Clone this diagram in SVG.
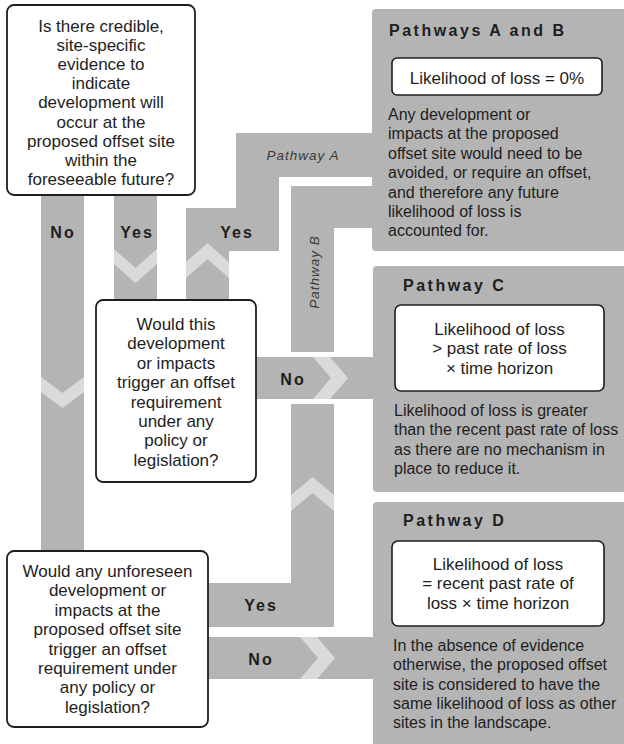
<svg xmlns="http://www.w3.org/2000/svg" width="624" height="744" viewBox="0 0 624 744">
<defs>
<style>
.band{fill:#b4b4b4}
.chev{fill:#dadada}
.panel{fill:#b4b4b4}
.q{fill:#fff;stroke:#1e1e1e;stroke-width:1.8}
.ib{fill:#fff;stroke:#1e1e1e;stroke-width:1.6}
.qt{font-family:"Liberation Sans",Arial,sans-serif;font-size:17px;fill:#1e1e1e;text-anchor:middle}
.it{font-family:"Liberation Sans",Arial,sans-serif;font-size:17px;fill:#1e1e1e;text-anchor:middle}
.bt{font-family:"Liberation Sans",Arial,sans-serif;font-size:16px;fill:#1e1e1e}
.ttl{font-family:"Liberation Sans",Arial,sans-serif;font-size:16px;font-weight:bold;letter-spacing:2.5px;fill:#1e1e1e}
.lbl{font-family:"Liberation Sans",Arial,sans-serif;font-size:16px;font-weight:bold;letter-spacing:2px;fill:#1e1e1e;text-anchor:middle}
.pl{font-family:"Liberation Sans",Arial,sans-serif;font-size:13.5px;font-style:italic;letter-spacing:1px;fill:#3a3a3a;text-anchor:middle}
</style>
</defs>
<rect width="624" height="744" fill="#fff"/>

<g id="connectors">
  <rect class="band" x="41" y="195" width="43" height="356"/>
  <rect class="band" x="114" y="195" width="43" height="105"/>
  <polygon class="band" points="186,300 186,208 236,208 236,133 373,133 373,177 279,177 279,251 229,251 229,300"/>
  <polygon class="band" points="291,352 291,186 373,186 373,228 334,228 334,352"/>
  <rect class="band" x="256" y="357" width="117" height="42"/>
  <polygon class="band" points="208,583 291,583 291,404 334,404 334,627 208,627"/>
  <rect class="band" x="208" y="637" width="165" height="42"/>

  <polygon class="chev" points="41,377 62.5,393 84,377 84,392 62.5,408 41,392"/>
  <polygon class="chev" points="114,249 135.5,268 157,249 157,264 135.5,283 114,264"/>
  <polygon class="chev" points="186,262 207.5,243 229,262 229,278 207.5,259 186,278"/>
  <polygon class="chev" points="313,357 330,357 348,378 330,399 313,399 331,378"/>
  <polygon class="chev" points="291,495 312.5,477 334,495 334,511 312.5,493 291,511"/>
  <polygon class="chev" points="300,637 317,637 335,658 317,679 300,679 318,658"/>

  <text class="lbl" x="63" y="238">No</text>
  <text class="lbl" x="137" y="238">Yes</text>
  <text class="lbl" x="237" y="238">Yes</text>
  <text class="lbl" x="293" y="385">No</text>
  <text class="lbl" x="261" y="611">Yes</text>
  <text class="lbl" x="261" y="665">No</text>
  <text class="pl" x="303" y="160">Pathway A</text>
  <text class="pl" transform="translate(319,272) rotate(-90)">Pathway B</text>
</g>

<g id="q1">
  <rect class="q" x="7" y="5" width="188" height="190" rx="7"/>
  <text class="qt" x="101" y="32">Is there credible,</text>
  <text class="qt" x="101" y="51.1">site-specific</text>
  <text class="qt" x="101" y="70.2">evidence to</text>
  <text class="qt" x="101" y="89.3">indicate</text>
  <text class="qt" x="101" y="108.4">development will</text>
  <text class="qt" x="101" y="127.5">occur at the</text>
  <text class="qt" x="101" y="146.6">proposed offset site</text>
  <text class="qt" x="101" y="165.7">within the</text>
  <text class="qt" x="101" y="184.8">foreseeable future?</text>
</g>

<g id="q2">
  <rect class="q" x="96" y="300" width="160" height="182" rx="7"/>
  <text class="qt" x="176" y="330">Would this</text>
  <text class="qt" x="176" y="349.4">development</text>
  <text class="qt" x="176" y="368.8">or impacts</text>
  <text class="qt" x="176" y="388.2">trigger an offset</text>
  <text class="qt" x="176" y="407.6">requirement</text>
  <text class="qt" x="176" y="427">under any</text>
  <text class="qt" x="176" y="446.4">policy or</text>
  <text class="qt" x="176" y="465.8">legislation?</text>
</g>

<g id="q3">
  <rect class="q" x="7" y="551" width="201" height="176" rx="7"/>
  <text class="qt" x="107.5" y="577">Would any unforeseen</text>
  <text class="qt" x="107.5" y="596.4">development or</text>
  <text class="qt" x="107.5" y="615.8">impacts at the</text>
  <text class="qt" x="107.5" y="635.2">proposed offset site</text>
  <text class="qt" x="107.5" y="654.6">trigger an offset</text>
  <text class="qt" x="107.5" y="674">requirement under</text>
  <text class="qt" x="107.5" y="693.4">any policy or</text>
  <text class="qt" x="107.5" y="712.8">legislation?</text>
</g>

<g id="pathwayAB">
  <rect class="panel" x="372" y="9" width="262" height="242" rx="4"/>
  <text class="ttl" x="389" y="36">Pathways A and B</text>
  <rect class="ib" x="392" y="58" width="210" height="37" rx="5"/>
  <text class="it" x="497" y="84">Likelihood of loss = 0%</text>
  <text class="bt" x="388" y="120">Any development or</text>
  <text class="bt" x="388" y="139.4">impacts at the proposed</text>
  <text class="bt" x="388" y="158.8">offset site would need to be</text>
  <text class="bt" x="388" y="178.2">avoided, or require an offset,</text>
  <text class="bt" x="388" y="197.6">and therefore any future</text>
  <text class="bt" x="388" y="217">likelihood of loss is</text>
  <text class="bt" x="388" y="236.4">accounted for.</text>
</g>

<g id="pathwayC">
  <rect class="panel" x="373" y="266" width="261" height="226" rx="4"/>
  <text class="ttl" x="403" y="291">Pathway C</text>
  <rect class="ib" x="395" y="305" width="209" height="86" rx="6"/>
  <text class="it" x="499.5" y="335">Likelihood of loss</text>
  <text class="it" x="499.5" y="354.3">&gt; past rate of loss</text>
  <text class="it" x="499.5" y="373.6">× time horizon</text>
  <text class="bt" x="394" y="416">Likelihood of loss is greater</text>
  <text class="bt" x="394" y="435.3">than the recent past rate of loss</text>
  <text class="bt" x="394" y="454.6">as there are no mechanism in</text>
  <text class="bt" x="394" y="473.9">place to reduce it.</text>
</g>

<g id="pathwayD">
  <rect class="panel" x="373" y="502" width="261" height="252" rx="4"/>
  <text class="ttl" x="403" y="526">Pathway D</text>
  <rect class="ib" x="392" y="541" width="212" height="85" rx="6"/>
  <text class="it" x="498" y="570">Likelihood of loss</text>
  <text class="it" x="498" y="589.3">= recent past rate of</text>
  <text class="it" x="498" y="608.6">loss × time horizon</text>
  <text class="bt" x="393" y="651">In the absence of evidence</text>
  <text class="bt" x="393" y="670.3">otherwise, the proposed offset</text>
  <text class="bt" x="393" y="689.6">site is considered to have the</text>
  <text class="bt" x="393" y="708.9">same likelihood of loss as other</text>
  <text class="bt" x="393" y="728.2">sites in the landscape.</text>
</g>
</svg>
